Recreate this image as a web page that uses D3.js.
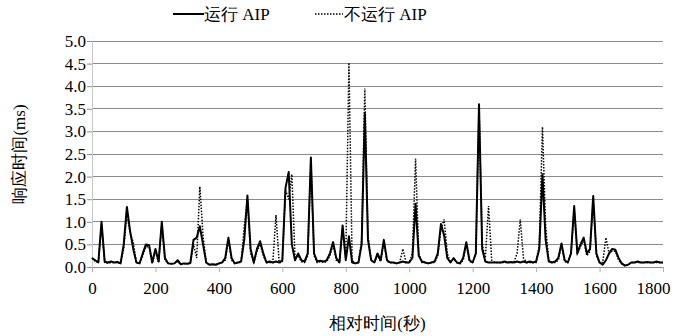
<!DOCTYPE html>
<html>
<head>
<meta charset="utf-8">
<script src="https://cdn.jsdelivr.net/npm/d3@7"></script>
<style>
  body { margin: 0; background: #fff; }
</style>
</head>
<body>
<svg id="chart" width="675" height="336"></svg>
<script>
// sample times (s), one every 10 s
const times = d3.range(0, 1801, 10);

// response time with AIP running (ms)
const runAIP = [
  0.2, 0.15, 0.1, 1.0, 0.12, 0.1, 0.12, 0.1, 0.11, 0.08,
  0.5, 1.33, 0.8, 0.4, 0.1, 0.08, 0.3, 0.5, 0.48, 0.1,
  0.4, 0.12, 1.0, 0.2, 0.08, 0.07, 0.08, 0.15, 0.06, 0.08,
  0.07, 0.09, 0.6, 0.65, 0.9, 0.5, 0.1, 0.05, 0.06, 0.05,
  0.08, 0.1, 0.2, 0.65, 0.2, 0.08, 0.1, 0.12, 0.6, 1.58,
  0.4, 0.1, 0.4, 0.57, 0.3, 0.1, 0.12, 0.1, 0.12, 0.1,
  0.15, 1.75, 2.1, 0.5, 0.15, 0.3, 0.15, 0.12, 0.3, 2.42,
  0.3, 0.12, 0.14, 0.12, 0.15, 0.3, 0.55, 0.2, 0.1, 0.92,
  0.15, 0.68, 0.1, 0.08, 0.1, 0.5, 3.4, 0.6, 0.15, 0.1,
  0.3, 0.15, 0.6, 0.15, 0.1, 0.1, 0.08, 0.1, 0.12, 0.1,
  0.1, 0.2, 1.4, 0.25, 0.12, 0.1, 0.08, 0.1, 0.12, 0.3,
  0.95, 0.7, 0.2, 0.1, 0.2, 0.1, 0.08, 0.2, 0.55, 0.15,
  0.1, 0.3, 3.6, 0.4, 0.12, 0.1, 0.1, 0.1, 0.1, 0.1,
  0.12, 0.1, 0.11, 0.1, 0.12, 0.1, 0.12, 0.1, 0.12, 0.1,
  0.12, 0.4, 2.05, 0.6, 0.12, 0.1, 0.12, 0.2, 0.52, 0.15,
  0.1, 0.3, 1.35, 0.3, 0.5, 0.65, 0.3, 0.4, 1.57, 0.3,
  0.1, 0.05, 0.15, 0.3, 0.4, 0.38, 0.2, 0.08, 0.03, 0.05,
  0.1, 0.1, 0.12, 0.1, 0.1, 0.11, 0.1, 0.1, 0.12, 0.1,
  0.1
];

// response time without AIP (ms)
const noAIP = [
  0.2, 0.12, 0.1, 0.95, 0.1, 0.08, 0.1, 0.1, 0.1, 0.08,
  0.4, 1.2, 0.75, 0.55, 0.1, 0.08, 0.25, 0.45, 0.45, 0.08,
  0.35, 0.1, 0.95, 0.15, 0.08, 0.07, 0.08, 0.12, 0.06, 0.07,
  0.07, 0.08, 0.5, 0.2, 1.78, 0.7, 0.1, 0.05, 0.06, 0.05,
  0.07, 0.1, 0.15, 0.6, 0.15, 0.08, 0.1, 0.1, 0.9, 1.5,
  0.3, 0.1, 0.35, 0.5, 0.25, 0.1, 0.1, 0.1, 1.15, 0.1,
  0.1, 1.7, 1.5, 2.05, 0.2, 0.25, 0.12, 0.1, 0.25, 2.35,
  0.25, 0.1, 0.12, 0.1, 0.12, 0.25, 0.5, 0.15, 0.1, 0.85,
  0.2, 4.52, 0.15, 0.08, 0.1, 0.6, 3.95, 0.7, 0.15, 0.1,
  0.25, 0.12, 0.55, 0.12, 0.1, 0.1, 0.08, 0.1, 0.4, 0.1,
  0.1, 0.3, 2.4, 0.3, 0.1, 0.1, 0.08, 0.1, 0.1, 0.25,
  0.85, 1.05, 0.3, 0.1, 0.18, 0.1, 0.08, 0.15, 0.5, 0.12,
  0.1, 0.3, 3.55, 0.5, 0.2, 1.35, 0.15, 0.1, 0.1, 0.1,
  0.1, 0.1, 0.1, 0.1, 0.3, 1.05, 0.2, 0.1, 0.1, 0.1,
  0.1, 0.5, 3.1, 0.9, 0.15, 0.1, 0.1, 0.15, 0.5, 0.12,
  0.1, 0.3, 1.3, 0.3, 0.45, 0.6, 0.25, 0.35, 1.5, 0.25,
  0.1, 0.1, 0.65, 0.3, 0.35, 0.35, 0.15, 0.07, 0.04, 0.05,
  0.1, 0.1, 0.1, 0.1, 0.1, 0.1, 0.1, 0.1, 0.1, 0.1,
  0.1
];

const xTicks = d3.range(0, 1801, 200);
const yTicks = d3.range(0, 5.01, 0.5);
const legendLabels = ["运行 AIP", "不运行 AIP"];

const FONT = "'Times New Roman', 'Liberation Serif', 'DejaVu Serif', serif";

const svg = d3.select("#chart");
const margin = { top: 41, right: 12, bottom: 69, left: 92 };
const width = 675 - margin.left - margin.right;
const height = 336 - margin.top - margin.bottom;

const x = d3.scaleLinear().domain([0, 1800]).range([0, width]);
const y = d3.scaleLinear().domain([0, 5]).range([height, 0]);

const g = svg.append("g").attr("transform", `translate(${margin.left},${margin.top})`);

// horizontal grid
g.append("g")
  .selectAll("line")
  .data(yTicks)
  .enter()
  .append("line")
  .attr("x1", 0)
  .attr("x2", width)
  .attr("y1", d => y(d))
  .attr("y2", d => y(d))
  .attr("stroke", "#8c8c8c")
  .attr("stroke-width", 1)
  .attr("shape-rendering", "crispEdges");

// y axis
const yAxis = g.append("g")
  .call(d3.axisLeft(y).tickValues(yTicks).tickFormat(d3.format(".1f")).tickSize(5))
  .attr("font-family", FONT)
  .attr("font-size", 17);
yAxis.select(".domain").attr("stroke", "#c8c8c8");
yAxis.selectAll(".tick line").attr("stroke", "#8c8c8c");
yAxis.selectAll("text").attr("fill", "#000").attr("x", -6);

// x axis
const xAxis = g.append("g")
  .attr("transform", `translate(0,${height})`)
  .call(d3.axisBottom(x).tickValues(xTicks).tickFormat(d3.format("d")).tickSize(5))
  .attr("font-family", FONT)
  .attr("font-size", 17);
xAxis.select(".domain").attr("stroke", "#8c8c8c");
xAxis.selectAll(".tick line").attr("stroke", "#b0b0b0");
xAxis.selectAll("text").attr("fill", "#000").attr("y", 15);
// keep the last label inside the frame
xAxis.selectAll("text").filter(d => d === 1800)
  .attr("text-anchor", "end")
  .attr("x", 7);

const line = d3.line()
  .x((d, i) => x(times[i]))
  .y(d => y(d));

g.append("path")
  .datum(noAIP)
  .attr("d", line)
  .attr("fill", "none")
  .attr("stroke", "#000")
  .attr("stroke-width", 1.5)
  .attr("stroke-dasharray", "1.5,1.5");

g.append("path")
  .datum(runAIP)
  .attr("d", line)
  .attr("fill", "none")
  .attr("stroke", "#000")
  .attr("stroke-width", 2)
  .attr("stroke-linejoin", "round");

// axis titles
svg.append("text")
  .attr("x", margin.left + width / 2)
  .attr("y", 329)
  .attr("text-anchor", "middle")
  .attr("font-family", FONT)
  .attr("font-size", 17)
  .text("相对时间(秒)");

svg.append("text")
  .attr("transform", `translate(25,${margin.top + height / 2}) rotate(-90)`)
  .attr("text-anchor", "middle")
  .attr("font-family", FONT)
  .attr("font-size", 17)
  .text("响应时间(ms)");

// legend
const legend = svg.append("g")
  .attr("font-family", FONT)
  .attr("font-size", 17);
legend.append("line")
  .attr("x1", 173).attr("x2", 204).attr("y1", 14).attr("y2", 14)
  .attr("stroke", "#000").attr("stroke-width", 2);
legend.append("text")
  .attr("x", 204).attr("y", 20)
  .text(legendLabels[0]);
legend.append("line")
  .attr("x1", 315).attr("x2", 343).attr("y1", 14).attr("y2", 14)
  .attr("stroke", "#000").attr("stroke-width", 1.5)
  .attr("stroke-dasharray", "1.5,1.5");
legend.append("text")
  .attr("x", 344).attr("y", 20)
  .text(legendLabels[1]);
</script>
</body>
</html>
